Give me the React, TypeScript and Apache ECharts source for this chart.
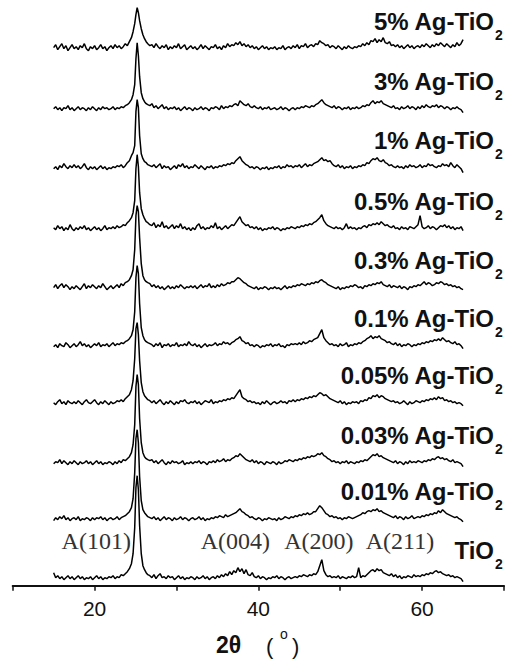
import React, { useEffect, useRef } from 'react';
import * as echarts from 'echarts';

// 2θ positions (degrees) shared by all patterns
const twoTheta = [
  15, 15.25, 15.5, 15.75, 16, 16.25, 16.5, 16.75, 17, 17.25,
  17.5, 17.75, 18, 18.25, 18.5, 18.75, 19, 19.25, 19.5, 19.75,
  20, 20.25, 20.5, 20.75, 21, 21.25, 21.5, 21.75, 22, 22.25,
  22.5, 22.75, 23, 23.25, 23.5, 23.75, 24, 24.25,
  24.5, 24.7, 24.9, 25.05, 25.2, 25.35, 25.5, 25.7, 25.9, 26.1, 26.3, 26.5, 26.75,
  27, 27.25, 27.5, 27.75, 28, 28.25, 28.5, 28.75, 29, 29.25,
  29.5, 29.75, 30, 30.25, 30.5, 30.75, 31, 31.25, 31.5, 31.75,
  32, 32.25, 32.5, 32.75, 33, 33.25, 33.5, 33.75, 34, 34.25,
  34.5, 34.75, 35, 35.25, 35.5, 35.75, 36, 36.25, 36.5, 36.75,
  37, 37.25, 37.5, 37.75, 38, 38.25, 38.5, 38.75, 39, 39.25,
  39.5, 39.75, 40, 40.25, 40.5, 40.75, 41, 41.25, 41.5, 41.75,
  42, 42.25, 42.5, 42.75, 43, 43.25, 43.5, 43.75, 44, 44.25,
  44.5, 44.75, 45, 45.25, 45.5, 45.75, 46, 46.25, 46.5, 46.75,
  47, 47.25, 47.5, 47.75, 48, 48.25, 48.5, 48.75, 49, 49.25,
  49.5, 49.75, 50, 50.25, 50.5, 50.75, 51, 51.25, 51.5, 51.75,
  52, 52.25, 52.5, 52.75, 53, 53.25, 53.5, 53.75, 54, 54.25,
  54.5, 54.75, 55, 55.25, 55.5, 55.75, 56, 56.25, 56.5, 56.75,
  57, 57.25, 57.5, 57.75, 58, 58.25, 58.5, 58.75, 59, 59.25,
  59.5, 59.75, 60, 60.25, 60.5, 60.75, 61, 61.25, 61.5, 61.75,
  62, 62.25, 62.5, 62.75, 63, 63.25, 63.5, 63.75, 64, 64.25,
  64.5, 64.75, 65,
];

// intensities (arbitrary units) per sample
const ag5 = [
  3, 6, 1, 4, 7, 2, 5, 0, 3, 6,
  2, 4, 1, 5, 3, 7, 2, 0, 4, 2,
  5, 1, 3, 6, 2, 4, 0, 3, 5, 2,
  6, 3, 5, 2, 4, 7, 5, 9,
  13, 19, 27, 36, 43, 38, 30, 22, 16, 12, 9, 7, 5,
  6, 3, 7, 4, 2, 5, 3, 6, 1, 4,
  2, 5, 3, 7, 2, 4, 6, 1, 3, 5,
  2, 4, 1, 3, 6, 2, 5, 3, 1, 4,
  3, 6, 2, 4, 1, 5, 3, 7, 4, 6,
  5, 8, 6, 9, 5, 7, 4, 6, 3, 5,
  2, 4, 1, 3, 5, 2, 4, 1, 3, 2,
  4, 1, 3, 2, 5, 1, 3, 4, 2, 5,
  3, 6, 2, 5, 4, 7, 3, 5, 6, 4,
  7, 6, 10, 8, 7, 5, 6, 3, 5, 4,
  2, 5, 3, 1, 4, 2, 5, 3, 2, 4,
  3, 5, 4, 7, 5, 8, 6, 10, 9, 12,
  8, 11, 9, 13, 8, 7, 9, 5, 6, 4,
  6, 3, 5, 2, 4, 6, 3, 5, 2, 4,
  5, 3, 6, 4, 7, 5, 3, 6, 4, 7,
  5, 8, 6, 4, 7, 5, 3, 6, 4, 8,
  5, 7, 11,
];
const ag3 = [
  2, 4, 1, 3, 0, 3, 2, 5, 1, 3,
  0, 2, 4, 1, 3, 2, 0, 3, 1, 4,
  2, 0, 3, 1, 4, 2, 3, 1, 2, 4,
  1, 3, 2, 4, 3, 5, 6, 8,
  11, 16, 26, 52, 68, 55, 34, 18, 12, 9, 7, 6, 5,
  7, 3, 5, 2, 4, 6, 2, 4, 1, 3,
  2, 4, 1, 3, 0, 2, 4, 1, 3, 2,
  0, 3, 1, 2, 4, 1, 3, 2, 0, 3,
  2, 4, 3, 1, 5, 2, 4, 3, 5, 4,
  6, 7, 5, 10, 8, 6, 5, 7, 4, 3,
  5, 3, 2, 4, 1, 3, 2, 4, 1, 2,
  3, 1, 2, 4, 1, 3, 2, 0, 2, 3,
  1, 3, 2, 4, 3, 5, 4, 3, 5, 4,
  6, 7, 9, 11, 8, 6, 5, 4, 3, 5,
  2, 4, 3, 1, 3, 2, 4, 1, 3, 2,
  4, 2, 3, 5, 4, 6, 5, 8, 10, 7,
  9, 8, 10, 7, 6, 5, 4, 3, 5, 2,
  3, 1, 4, 2, 3, 5, 2, 4, 3, 1,
  4, 2, 5, 3, 6, 4, 3, 5, 4, 6,
  3, 5, 4, 2, 4, 3, 1, 3, 2, 4,
  2, 1, -2,
];
const ag1 = [
  1, 3, 0, 4, 2, 6, 3, 1, 4, 2,
  5, 2, 4, 1, 3, 6, 2, 0, 3, 1,
  3, 0, 2, 4, 1, 3, 0, 2, 1, 3,
  2, 4, 3, 5, 2, 4, 7, 9,
  14, 17, 24, 58, 70, 62, 34, 16, 11, 8, 7, 5, 4,
  3, 5, 2, 4, 6, 1, 4, 2, 3, 0,
  2, 4, 1, 5, 3, 6, 2, 4, 1, 3,
  2, 5, 3, 1, 4, 2, 0, 3, 2, 4,
  1, 3, 2, 4, 3, 5, 4, 6, 5, 7,
  6, 9, 11, 13, 9, 7, 5, 4, 2, 3,
  1, 3, 2, 0, 2, 1, 3, 0, 2, 1,
  3, 2, 4, 1, 3, 2, 5, 3, 4, 2,
  4, 3, 5, 2, 4, 6, 3, 5, 4, 6,
  7, 8, 10, 12, 9, 10, 8, 9, 6, 4,
  3, 5, 2, 4, 1, 3, 2, 4, 1, 3,
  2, 4, 3, 5, 4, 7, 6, 9, 11, 10,
  12, 9, 8, 10, 7, 6, 4, 5, 3, 2,
  4, 2, 3, 1, 4, 2, 5, 3, 4, 2,
  3, 5, 2, 4, 3, 6, 4, 5, 3, 2,
  4, 3, 6, 4, 5, 3, 7, 4, 2, 5,
  3, 1, -3,
];
const ag05 = [
  3, 1, 5, 2, 4, 0, 3, 1, 6, 2,
  0, 3, 1, 4, 2, 5, 1, 3, 0, 2,
  4, 1, 3, 0, 2, 5, 1, 3, 2, 4,
  2, 5, 3, 4, 6, 5, 8, 10,
  13, 18, 30, 62, 76, 64, 38, 22, 16, 12, 9, 8, 6,
  5, 8, 3, 6, 4, 9, 3, 5, 2, 4,
  6, 2, 5, 3, 7, 2, 4, 1, 3, 0,
  3, 1, 5, 7, 2, 4, 1, 3, 2, 5,
  3, 8, 2, 4, 1, 3, 5, 2, 4, 6,
  5, 8, 11, 14, 9, 7, 5, 6, 3, 4,
  2, 4, 1, 3, 0, 2, 1, 3, 2, 4,
  1, 3, 2, 0, 2, 1, 3, 2, 4, 3,
  2, 4, 3, 5, 4, 6, 5, 7, 6, 8,
  9, 11, 13, 16, 10, 7, 5, 4, 3, 2,
  4, 2, 3, 1, 3, 7, 2, 4, 2, 3,
  1, 3, 2, 4, 5, 3, 6, 5, 7, 6,
  8, 6, 9, 7, 5, 6, 4, 3, 5, 2,
  3, 1, 4, 2, 3, 1, 4, 3, 2, 4,
  6, 15, 4, 2, 3, 5, 2, 4, 3, 1,
  3, 5, 4, 6, 3, 5, 2, 4, 1, 3,
  2, 4, 0,
];
const ag03 = [
  2, 5, 1, 4, 6, 2, 5, 3, 0, 3,
  1, 4, 2, 0, 3, 6, 1, 4, 2, 5,
  3, 1, 4, 2, 6, 3, 0, 2, 4, 1,
  3, 5, 2, 6, 4, 7, 8, 10,
  14, 20, 40, 74, 84, 78, 52, 26, 14, 10, 8, 7, 6,
  3, 5, 2, 4, 1, 3, 0, 2, 4, 1,
  3, 1, 4, 2, 5, 3, 1, 3, 2, 4,
  2, 4, 1, 3, 5, 2, 4, 3, 6, 2,
  4, 2, 5, 3, 6, 4, 5, 7, 6, 8,
  8, 10, 12, 11, 9, 7, 6, 4, 3, 2,
  1, 3, 0, 2, 1, 3, 2, 0, 2, 1,
  3, 1, 2, 0, 2, 4, 1, 3, 2, 4,
  3, 5, 4, 6, 5, 4, 6, 5, 7, 6,
  8, 7, 9, 10, 8, 7, 5, 4, 3, 2,
  1, 3, 0, 2, 1, 3, 2, 4, 3, 5,
  4, 2, 3, 1, 4, 3, 5, 4, 6, 5,
  7, 6, 8, 5, 4, 3, 5, 2, 4, 3,
  2, 4, 1, 3, 2, 0, 3, 2, 4, 3,
  5, 4, 6, 8, 5, 7, 6, 4, 5, 7,
  6, 8, 7, 5, 6, 4, 5, 3, 4, 2,
  3, 1, 0,
];
const ag01 = [
  1, 3, 0, 4, 2, 1, 5, 3, 0, 2,
  4, 1, 3, 6, 2, 4, 1, 3, 0, 2,
  4, 2, 5, 1, 3, 2, 4, 1, 3, 5,
  2, 4, 3, 5, 4, 6, 7, 9,
  12, 18, 36, 70, 82, 74, 44, 20, 12, 8, 6, 5, 4,
  3, 1, 4, 2, 5, 0, 3, 2, 4, 1,
  3, 2, 5, 1, 3, 2, 4, 2, 6, 3,
  2, 4, 1, 3, 0, 2, 4, 1, 3, 2,
  3, 5, 2, 4, 3, 6, 4, 5, 3, 5,
  6, 8, 9, 11, 7, 6, 4, 5, 2, 3,
  1, 3, 2, 0, 2, 1, 3, 2, 4, 1,
  3, 2, 4, 1, 2, 0, 3, 2, 4, 3,
  4, 3, 5, 3, 6, 4, 5, 7, 6, 8,
  9, 10, 14, 18, 10, 7, 5, 3, 4, 2,
  3, 1, 4, 2, 3, 5, 1, 3, 2, 4,
  3, 5, 4, 6, 7, 9, 10, 12, 9, 11,
  10, 12, 9, 8, 7, 5, 6, 4, 3, 5,
  2, 4, 1, 3, 2, 4, 3, 1, 3, 2,
  4, 3, 5, 4, 6, 5, 7, 6, 8, 7,
  9, 7, 10, 8, 6, 7, 5, 4, 6, 3,
  4, 2, -1,
];
const ag005 = [
  2, 0, 3, 5, 1, 3, 0, 4, 2, 1,
  3, 1, 4, 2, 0, 3, 5, 2, 1, 3,
  5, 2, 0, 3, 1, 4, 2, 0, 3, 1,
  2, 4, 3, 5, 3, 6, 8, 10,
  15, 24, 46, 76, 82, 70, 44, 22, 13, 9, 7, 5, 4,
  2, 4, 1, 3, 5, 2, 0, 3, 1, 4,
  2, 0, 3, 1, 4, 3, 5, 2, 1, 3,
  2, 4, 1, 3, 0, 2, 4, 3, 2, 5,
  1, 3, 2, 4, 3, 5, 4, 6, 5, 7,
  6, 9, 12, 15, 8, 6, 5, 3, 4, 2,
  3, 1, 2, 0, 3, 1, 4, 2, 0, 2,
  3, 1, 2, 4, 2, 3, 1, 4, 3, 5,
  3, 5, 4, 6, 5, 7, 6, 8, 7, 9,
  8, 10, 12, 11, 9, 10, 8, 6, 5, 4,
  3, 2, 4, 1, 3, 0, 2, 1, 3, 2,
  3, 1, 4, 3, 5, 4, 7, 6, 9, 8,
  10, 7, 9, 8, 6, 5, 4, 3, 4, 2,
  3, 1, 2, 4, 2, 0, 3, 1, 2, 4,
  3, 2, 4, 3, 5, 4, 6, 5, 7, 5,
  8, 6, 7, 4, 5, 3, 4, 2, 3, 1,
  2, 1, -1,
];
const ag003 = [
  1, 3, 2, 5, 1, 4, 2, 0, 3, 1,
  4, 2, 0, 3, 1, 2, 4, 1, 3, 0,
  2, 4, 1, 3, 0, 2, 1, 3, 2, 0,
  3, 1, 4, 2, 5, 4, 6, 8,
  12, 20, 40, 78, 90, 80, 46, 22, 12, 8, 6, 5, 4,
  5, 2, 4, 1, 3, 5, 2, 0, 3, 1,
  4, 2, 3, 1, 2, 4, 0, 2, 1, 3,
  1, 3, 2, 4, 1, 3, 2, 0, 3, 2,
  4, 2, 5, 3, 4, 6, 3, 5, 4, 6,
  7, 9, 8, 11, 9, 7, 5, 4, 3, 5,
  2, 4, 1, 3, 2, 0, 3, 2, 1, 3,
  2, 0, 3, 1, 2, 4, 3, 5, 4, 3,
  5, 4, 6, 5, 7, 6, 8, 7, 9, 8,
  9, 11, 10, 12, 9, 8, 6, 5, 3, 4,
  2, 3, 1, 3, 2, 4, 1, 3, 2, 1,
  3, 2, 4, 3, 5, 4, 6, 8, 10, 9,
  11, 8, 9, 7, 6, 5, 4, 3, 2, 4,
  1, 3, 2, 0, 3, 1, 4, 2, 3, 2,
  4, 3, 2, 4, 3, 5, 4, 6, 5, 7,
  8, 6, 7, 5, 6, 4, 3, 5, 2, 3,
  2, 1, -2,
];
const ag001 = [
  0, 3, 1, 4, 2, 5, 1, 3, 0, 2,
  3, 1, 4, 0, 2, 1, 3, 2, 0, 3,
  1, 3, 2, 4, 1, 3, 0, 2, 3, 1,
  2, 4, 1, 3, 4, 5, 7, 9,
  13, 22, 48, 82, 91, 78, 44, 20, 11, 8, 6, 4, 3,
  2, 4, 1, 3, 0, 2, 4, 1, 3, 2,
  0, 3, 1, 2, 4, 1, 3, 2, 0, 2,
  3, 1, 2, 4, 1, 3, 0, 2, 1, 3,
  2, 4, 3, 5, 4, 3, 6, 4, 5, 6,
  7, 8, 10, 12, 9, 8, 6, 5, 3, 4,
  2, 1, 3, 2, 0, 2, 1, 3, 2, 1,
  2, 0, 3, 1, 2, 4, 3, 2, 4, 3,
  5, 4, 6, 5, 7, 6, 8, 6, 7, 9,
  9, 12, 15, 13, 10, 7, 6, 4, 5, 3,
  4, 2, 3, 1, 3, 2, 4, 3, 2, 3,
  4, 5, 6, 8, 7, 9, 10, 9, 11, 10,
  12, 9, 10, 8, 7, 6, 5, 4, 3, 5,
  2, 4, 3, 1, 4, 2, 3, 5, 2, 3,
  4, 3, 5, 4, 6, 5, 7, 6, 8, 7,
  10, 8, 11, 9, 7, 6, 5, 4, 3, 4,
  2, 1, -1,
];
const tio2 = [
  7, 2, 4, 1, 3, 0, 2, 4, 1, 3,
  0, 2, 4, 1, 3, 0, 2, 1, 3, 0,
  2, 4, 1, 3, 0, 2, 1, 3, 2, 4,
  1, 3, 2, 5, 4, 6, 8, 11,
  16, 26, 52, 92, 104, 90, 54, 26, 14, 10, 7, 5, 4,
  2, 5, 1, 4, 6, 2, 3, 1, 4, 2,
  3, 0, 2, 4, 1, 3, 0, 2, 1, 3,
  2, 0, 3, 1, 2, 4, 1, 3, 0, 2,
  3, 1, 4, 2, 5, 3, 6, 4, 8, 5,
  9, 7, 12, 8, 11, 6, 10, 5, 4, 7,
  3, 2, 4, 1, 3, 2, 0, 2, 1, 3,
  2, 4, 1, 3, 2, 0, 2, 3, 1, 2,
  3, 2, 4, 3, 5, 4, 3, 5, 4, 6,
  5, 8, 14, 20, 9, 5, 3, 4, 2, 3,
  2, 4, 1, 3, 2, 1, 3, 2, 4, 2,
  3, 12, 2, 4, 3, 5, 7, 9, 10, 8,
  11, 9, 10, 7, 6, 5, 4, 6, 3, 5,
  2, 4, 1, 3, 2, 4, 3, 2, 5, 3,
  4, 3, 5, 4, 6, 5, 7, 6, 8, 9,
  7, 8, 6, 5, 4, 5, 3, 4, 2, 3,
  2, 1, -2,
];

const sampleNames = [
  '5% Ag-TiO', '3% Ag-TiO', '1% Ag-TiO', '0.5% Ag-TiO', '0.3% Ag-TiO',
  '0.1% Ag-TiO', '0.05% Ag-TiO', '0.03% Ag-TiO', '0.01% Ag-TiO', 'TiO',
];
const sampleSubscripts = ['2', '2', '2', '2', '2', '2', '2', '2', '2', '2'];
const patterns = [ag5, ag3, ag1, ag05, ag03, ag01, ag005, ag003, ag001, tio2];
// vertical stacking offsets of each pattern
const offsets = [535, 475, 416, 355, 296, 238, 181, 121, 65, 6];

const peakLabels = ['A(101)', 'A(004)', 'A(200)', 'A(211)'];
const peakLabelX = [20.2, 37.2, 47.4, 57.3];
const peakLabelLevel = 45;

const xTickLabels = [20, 40, 60];

const SANS = '"Liberation Sans", Arial, Helvetica, sans-serif';
const SERIF = '"Liberation Serif", "Times New Roman", serif';

export default function App() {
  const ref = useRef<HTMLDivElement>(null);

  useEffect(() => {
    if (!ref.current) return;
    const chart = echarts.init(ref.current, undefined, { renderer: 'svg' });

    const series = patterns.map((vals, i) => ({
      type: 'line',
      name: sampleNames[i] + sampleSubscripts[i],
      data: twoTheta.map((t, j) => [t, offsets[i] + vals[j]]),
      showSymbol: false,
      symbol: 'none',
      lineStyle: { color: '#000', width: 1.5 },
      silent: true,
      clip: false,
    }));

    chart.setOption({
      animation: false,
      grid: { left: 12.7, top: 0, width: 501, height: 585.7 },
      xAxis: {
        type: 'value',
        min: 10,
        max: 70,
        interval: 10,
        axisLine: { show: true, onZero: false, lineStyle: { color: '#111', width: 2 } },
        axisTick: { show: true, inside: false, length: 5, lineStyle: { color: '#111', width: 1.5 } },
        splitLine: { show: false },
        axisLabel: {
          color: '#111',
          fontFamily: SANS,
          fontSize: 21,
          margin: 12,
          formatter: (v: number) => (xTickLabels.indexOf(v) >= 0 ? String(v) : ''),
        },
      },
      yAxis: {
        type: 'value',
        min: 0,
        max: 585.7,
        show: false,
      },
      series,
    });

    const graphics: any[] = [];
    offsets.forEach((off, i) => {
      const p = chart.convertToPixel({ gridIndex: 0 }, [65, off + 3]) as number[];
      const cy = p[1] - 26;
      graphics.push({
        type: 'text',
        x: 494,
        y: cy,
        silent: true,
        style: {
          text: sampleNames[i],
          font: `bold 24px ${SANS}`,
          fill: '#111',
          textAlign: 'right',
          align: 'right',
          textVerticalAlign: 'middle',
          verticalAlign: 'middle',
        },
      });
      graphics.push({
        type: 'text',
        x: 495,
        y: cy + 13,
        silent: true,
        style: {
          text: sampleSubscripts[i],
          font: `bold 14px ${SANS}`,
          fill: '#111',
          textAlign: 'left',
          align: 'left',
          textVerticalAlign: 'middle',
          verticalAlign: 'middle',
        },
      });
    });

    peakLabels.forEach((lab, i) => {
      const p = chart.convertToPixel({ gridIndex: 0 }, [peakLabelX[i], peakLabelLevel]) as number[];
      graphics.push({
        type: 'text',
        x: p[0],
        y: p[1],
        silent: true,
        style: {
          text: lab,
          font: `24px ${SERIF}`,
          fill: '#333',
          textAlign: 'center',
          align: 'center',
          textVerticalAlign: 'middle',
          verticalAlign: 'middle',
        },
      });
    });

    // axis title: 2θ (°)
    graphics.push(
      {
        type: 'text', x: 216, y: 645, silent: true,
        style: { text: '2θ', font: `bold 23px ${SANS}`, fill: '#111', textAlign: 'left', align: 'left', textVerticalAlign: 'middle', verticalAlign: 'middle' },
      },
      {
        type: 'text', x: 266, y: 646, silent: true,
        style: { text: '(', font: `22px ${SANS}`, fill: '#111', textAlign: 'left', align: 'left', textVerticalAlign: 'middle', verticalAlign: 'middle' },
      },
      {
        type: 'text', x: 280, y: 634, silent: true,
        style: { text: 'o', font: `14px ${SANS}`, fill: '#111', textAlign: 'left', align: 'left', textVerticalAlign: 'middle', verticalAlign: 'middle' },
      },
      {
        type: 'text', x: 292, y: 646, silent: true,
        style: { text: ')', font: `22px ${SANS}`, fill: '#111', textAlign: 'left', align: 'left', textVerticalAlign: 'middle', verticalAlign: 'middle' },
      },
    );

    chart.setOption({ graphic: graphics });

    return () => chart.dispose();
  }, []);

  return (
    <div
      ref={ref}
      style={{ position: 'fixed', left: 0, top: 0, width: 507, height: 661, background: '#fff' }}
    />
  );
}
